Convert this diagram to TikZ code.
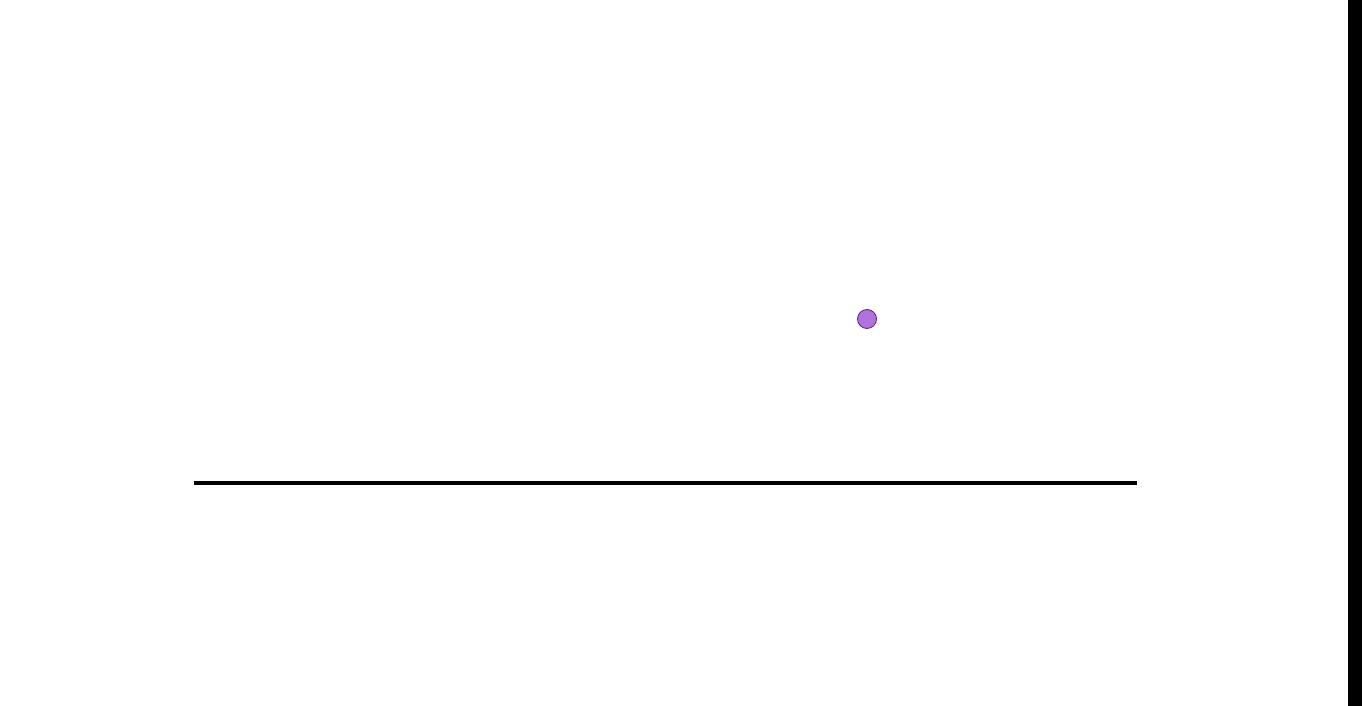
\documentclass[tikz,border=0pt]{standalone}
\usepackage{amsmath}
\usepackage{tikz}
\definecolor{dotfill}{RGB}{178,114,222}
\definecolor{dotedge}{RGB}{90,45,120}

\begin{document}
\begin{tikzpicture}[x=0.02cm,y=0.02cm]
\useasboundingbox (0,0) rectangle (1362,706);
\fill[black] (1348,0) rectangle (1362,706);
\draw[line width=2pt] (194,223)--(1137,223);
\node[circle,draw=dotedge,fill=dotfill,line width=0.5pt,minimum size=0.38cm,inner sep=0pt] (dot) at (867,387) {};
\end{tikzpicture}
\end{document}
